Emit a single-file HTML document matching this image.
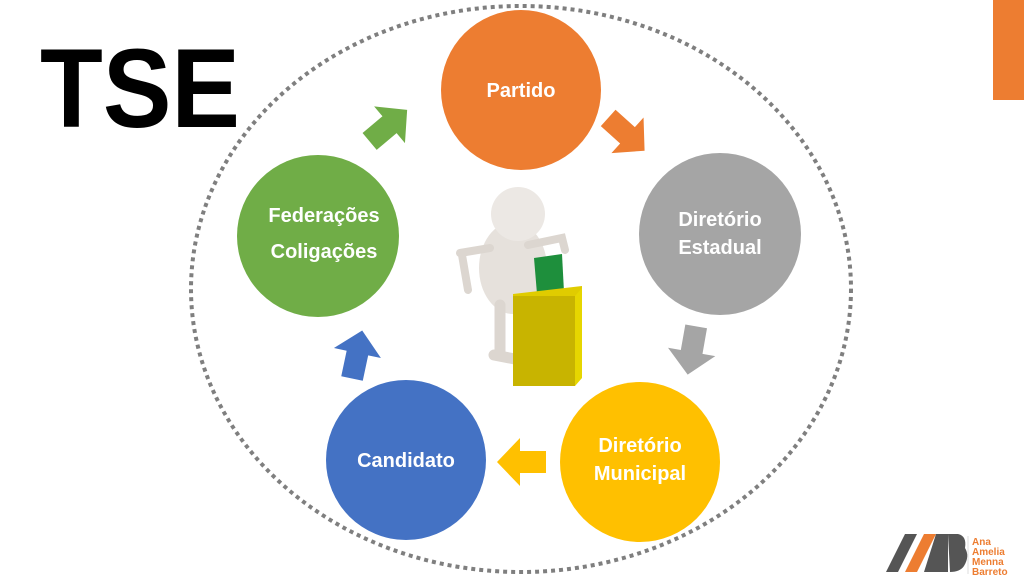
<!DOCTYPE html>
<html><head><meta charset="utf-8"><style>
html,body{margin:0;padding:0;background:#fff;}
svg{display:block;}
text{font-family:"Liberation Sans",sans-serif;}
</style></head><body>
<svg width="1024" height="576" viewBox="0 0 1024 576">
<defs>
<path id="ar" d="M-24,-11 L2,-11 L2,-24 L25,0 L2,24 L2,11 L-24,11 Z"/>
</defs>
<rect x="993" y="0" width="31" height="100" fill="#ED7D31"/>
<text x="40" y="127" font-size="112" font-weight="bold" fill="#000" textLength="200" lengthAdjust="spacingAndGlyphs">TSE</text>
<ellipse cx="521" cy="289" rx="330" ry="283" fill="none" stroke="#7f7f7f" stroke-width="4" stroke-dasharray="4 4"/>
<circle cx="521" cy="90" r="80" fill="#ED7D31"/>
<circle cx="720" cy="234" r="81" fill="#A5A5A5"/>
<circle cx="640" cy="462" r="80" fill="#FFC000"/>
<circle cx="406" cy="460" r="80" fill="#4472C4"/>
<circle cx="318" cy="236" r="81" fill="#70AD47"/>
<use href="#ar" fill="#ED7D31" transform="translate(626,134) rotate(42)"/>
<use href="#ar" fill="#A5A5A5" transform="translate(692,350) rotate(100)"/>
<use href="#ar" fill="#FFC000" transform="translate(522,462) rotate(180)"/>
<use href="#ar" fill="#4472C4" transform="translate(357,355) rotate(-78)"/>
<use href="#ar" fill="#70AD47" transform="translate(388,126) rotate(-40)"/>
<g fill="#fff" font-weight="bold" font-size="20" text-anchor="middle">
<text x="521" y="97">Partido</text>
<text x="720" y="226">Diretório</text>
<text x="720" y="254">Estadual</text>
<text x="640" y="452">Diretório</text>
<text x="640" y="480">Municipal</text>
<text x="406" y="467">Candidato</text>
<text x="324" y="222">Federações</text>
<text x="324" y="258">Coligações</text>
</g>
<g>
<ellipse cx="513" cy="268" rx="34" ry="46" fill="#e6e1dc"/>
<circle cx="518" cy="214" r="27" fill="#ece8e4"/>
<path d="M460,253 L490,248 M462,255 L468,290 M528,245 L562,238 L565,250" stroke="#dcd6d0" stroke-width="8" fill="none" stroke-linecap="round"/>
<path d="M500,305 L500,352 M494,355 L520,360" stroke="#dcd6d0" stroke-width="11" fill="none" stroke-linecap="round"/>
<polygon points="534,258 562,254 564,292 537,294" fill="#1e8f3c"/>
<polygon points="513,294 582,286 582,296 513,304" fill="#e0cc00"/>
<rect x="513" y="296" width="62" height="90" fill="#c8b400"/>
<polygon points="575,296 582,288 582,378 575,386" fill="#e6d600"/>
</g>
<g>
<polygon points="886,572 905,534 917,534 898,572" fill="#555"/>
<polygon points="905,572 924,534 936,534 917,572" fill="#ED7D31"/>
<polygon points="924,572 936,534 948,534 948,572" fill="#555"/>
<path d="M948,534 L958,534 Q967,536 965,548 Q970,556 964,566 Q960,572 950,572 Z" fill="#555"/>
<line x1="968" y1="536" x2="968" y2="574" stroke="#ddd" stroke-width="1"/>
<g fill="#ED7D31" font-size="10" font-weight="bold">
<text x="972" y="545">Ana</text>
<text x="972" y="555">Amelia</text>
<text x="972" y="565">Menna</text>
<text x="972" y="575">Barreto</text>
</g>
</g>
</svg>
</body></html>
